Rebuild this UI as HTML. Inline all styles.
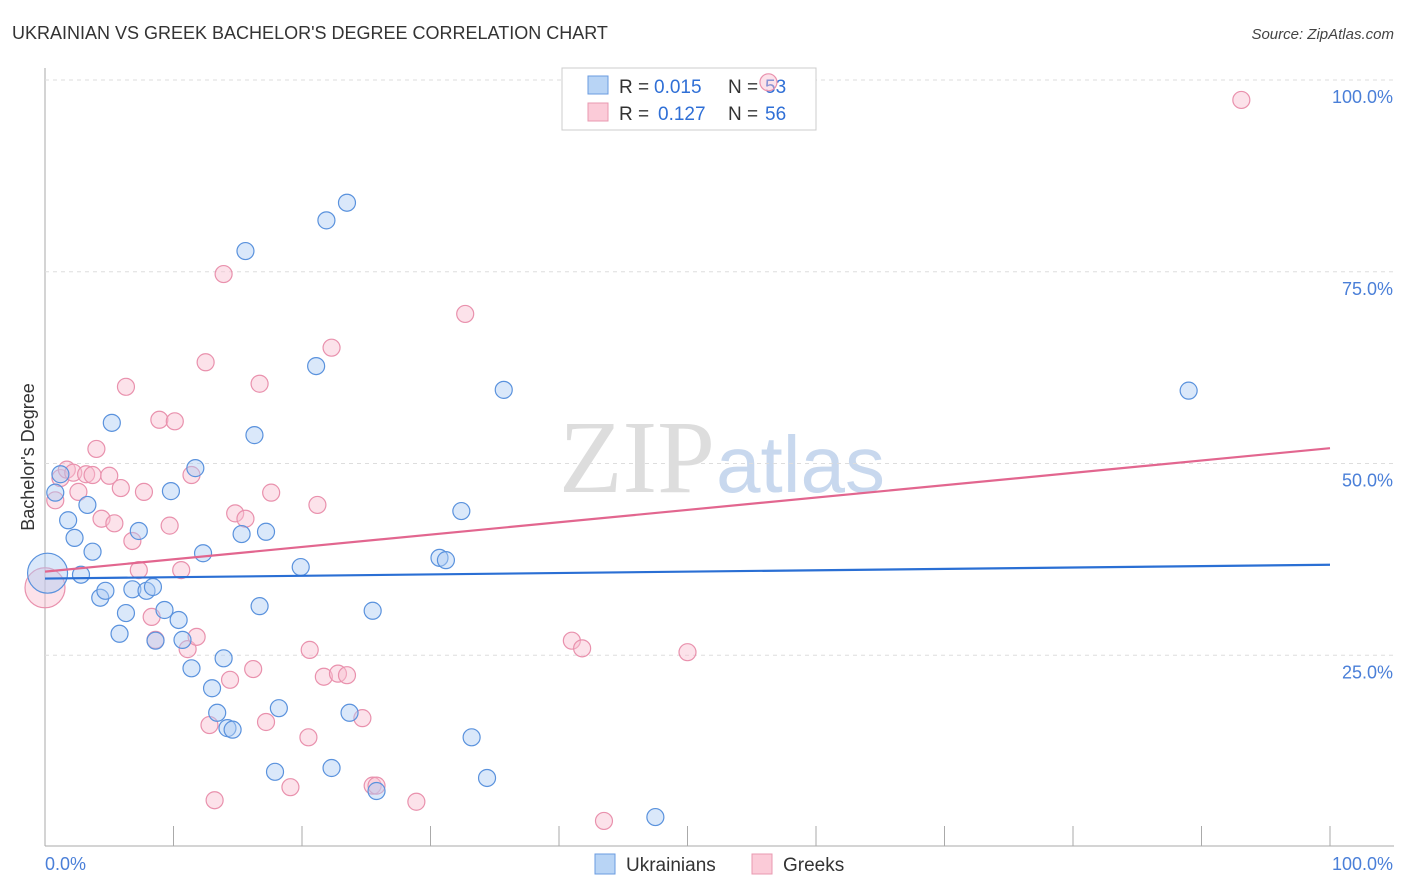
<!DOCTYPE html>
<html><head><meta charset="utf-8"><style>
body{margin:0;background:#fff;font-family:"Liberation Sans",sans-serif;}
svg{display:block}
</style></head><body>
<svg id="c" width="1406" height="892">
<text x="12" y="39" font-size="18" fill="#333">UKRAINIAN VS GREEK BACHELOR'S DEGREE CORRELATION CHART</text>
<text x="1394" y="39" font-size="15" fill="#444" font-style="italic" text-anchor="end">Source: ZipAtlas.com</text>
<text x="715" y="492" font-size="104" fill="#ddd" text-anchor="end" font-family="Liberation Serif">ZIP</text>
<text x="716" y="492" font-size="80" fill="#c8d8ee">atlas</text>
<text x="34" y="457" font-size="18" fill="#333" text-anchor="middle" transform="rotate(-90 34 457)">Bachelor's Degree</text>
<g id="grid"></g>
<g>
<rect x="562" y="68" width="254" height="62" fill="#fff" stroke="#ccc"/>
<rect x="588" y="76" width="20" height="18" fill="#b8d4f5" stroke="#6a9be0"/>
<rect x="588" y="103" width="20" height="18" fill="#fbcbd8" stroke="#e89ab0"/>
<text x="619" y="93" font-size="19" fill="#333">R =</text>
<text x="654" y="93" font-size="19" fill="#2f6fd6">0.015</text>
<text x="728" y="93" font-size="19" fill="#333">N =</text>
<text x="765" y="93" font-size="19" fill="#2f6fd6">53</text>
<text x="619" y="120" font-size="19" fill="#333">R =</text>
<text x="658" y="120" font-size="19" fill="#2f6fd6">0.127</text>
<text x="728" y="120" font-size="19" fill="#333">N =</text>
<text x="765" y="120" font-size="19" fill="#2f6fd6">56</text>
</g>
<g id="marks"></g>
<g>
<rect x="595" y="854" width="20" height="20" fill="#b8d4f5" stroke="#6a9be0"/>
<text x="626" y="871" font-size="19" fill="#333">Ukrainians</text>
<rect x="752" y="854" width="20" height="20" fill="#fbcbd8" stroke="#e89ab0"/>
<text x="783" y="871" font-size="19" fill="#333">Greeks</text>
</g>
</svg>
<script>
const blueX=[0.2,1.2,0.8,1.8,2.3,3.3,2.8,3.7,4.3,4.7,5.2,5.8,6.3,6.8,7.3,7.9,8.4,8.6,9.3,9.8,10.4,10.7,11.4,11.7,12.3,13.0,13.4,13.9,14.2,14.6,15.3,15.6,16.3,16.7,17.2,17.9,18.2,19.9,21.1,21.9,22.3,23.5,23.7,25.5,25.8,30.7,31.2,32.4,33.2,34.4,35.7,47.5,89.0];
const blueY=[35.7,48.6,46.2,42.6,40.3,44.6,35.5,38.5,32.5,33.4,55.3,27.8,30.5,33.6,41.2,33.4,33.9,26.9,30.9,46.4,29.6,27.0,23.3,49.4,38.3,20.7,17.5,24.6,15.5,15.3,40.8,77.7,53.7,31.4,41.1,9.8,18.1,36.5,62.7,81.7,10.3,84.0,17.5,30.8,7.3,37.7,37.4,43.8,14.3,9.0,59.6,3.9,59.5];
const pinkX=[0.0,0.8,1.2,1.7,2.2,2.6,3.2,3.7,4.0,4.4,5.0,5.4,5.9,6.3,6.8,7.3,7.7,8.3,8.6,8.9,9.7,10.1,10.6,11.1,11.4,11.8,12.5,13.2,12.8,13.9,14.4,14.8,15.6,16.2,16.7,17.2,17.6,19.1,20.5,20.6,21.2,21.7,22.3,22.8,23.5,24.7,25.5,25.8,28.9,32.7,41.0,41.8,43.5,50.0,56.3,93.1];
const pinkY=[33.8,45.2,48.1,49.2,48.8,46.3,48.6,48.5,51.9,42.8,48.4,42.2,46.8,60.0,39.9,36.1,46.3,30.0,27.0,55.7,41.9,55.5,36.1,25.8,48.5,27.4,63.2,6.1,15.9,74.7,21.8,43.5,42.8,23.2,60.4,16.3,46.2,7.8,14.3,25.7,44.6,22.2,65.1,22.6,22.4,16.8,8.0,8.0,5.9,69.5,26.9,25.9,3.4,25.4,99.7,97.4];
const blueTrend=[35.0,36.8];
const pinkTrend=[35.9,52.0];
const yTicks=[25,50,75,100];
const xTickLabels=["0.0%","100.0%"];
const sx=v=>45+v*12.85, sy=v=>847-v*7.67;
const NS="http://www.w3.org/2000/svg";
function mk(t,a,p){const e=document.createElementNS(NS,t);for(const k in a)e.setAttribute(k,a[k]);p.appendChild(e);return e;}
const g=document.getElementById('grid'),m=document.getElementById('marks');
let ax=mk('line',{x1:45,y1:68,x2:45,y2:846,stroke:'#aaa'},g);


let bx=mk('line',{x1:45,y1:846,x2:1394,y2:846,stroke:'#aaa'},g);


yTicks.forEach(t=>{
 let l=mk('line',{x1:45,y1:sy(t),x2:1394,y2:sy(t),stroke:'#ddd','stroke-dasharray':'4,4'},g);
 
 
 let tx=mk('text',{x:1393,y:sy(t)+23,'font-size':18,fill:'#4a7fd8','text-anchor':'end'},g);tx.textContent=t.toFixed(1)+'%';
 
 
});
for(let i=1;i<=10;i++){let l=mk('line',{x1:sx(i*10),y1:826,x2:sx(i*10),y2:846,stroke:'#aaa'},g);
 
 }
xTickLabels.forEach((s,i)=>{let t=mk('text',{x:i?1393:45,y:870,'font-size':18,fill:'#4a7fd8','text-anchor':i?'end':'start'},g);t.textContent=s;
 
 });
function pts(X,Y,fill,stroke,name){X.forEach((x,i)=>{const c=mk('circle',{cx:sx(x),cy:sy(Y[i]),r:i==0?20:8.5,fill:fill,'fill-opacity':0.45,stroke:stroke,'stroke-width':1.2},m);
 
 });}
pts(pinkX,pinkY,'#f8bfd0','#e991ad','greek-point');
pts(blueX,blueY,'#aecdf3','#5a92dd','ukrainian-point');
let tl=mk('line',{x1:sx(0),y1:sy(blueTrend[0]),x2:sx(100),y2:sy(blueTrend[1]),stroke:'#2a6fd4','stroke-width':2.2},m);


let tp=mk('line',{x1:sx(0),y1:sy(pinkTrend[0]),x2:sx(100),y2:sy(pinkTrend[1]),stroke:'#e2668f','stroke-width':2.2},m);


</script>
</body></html>
